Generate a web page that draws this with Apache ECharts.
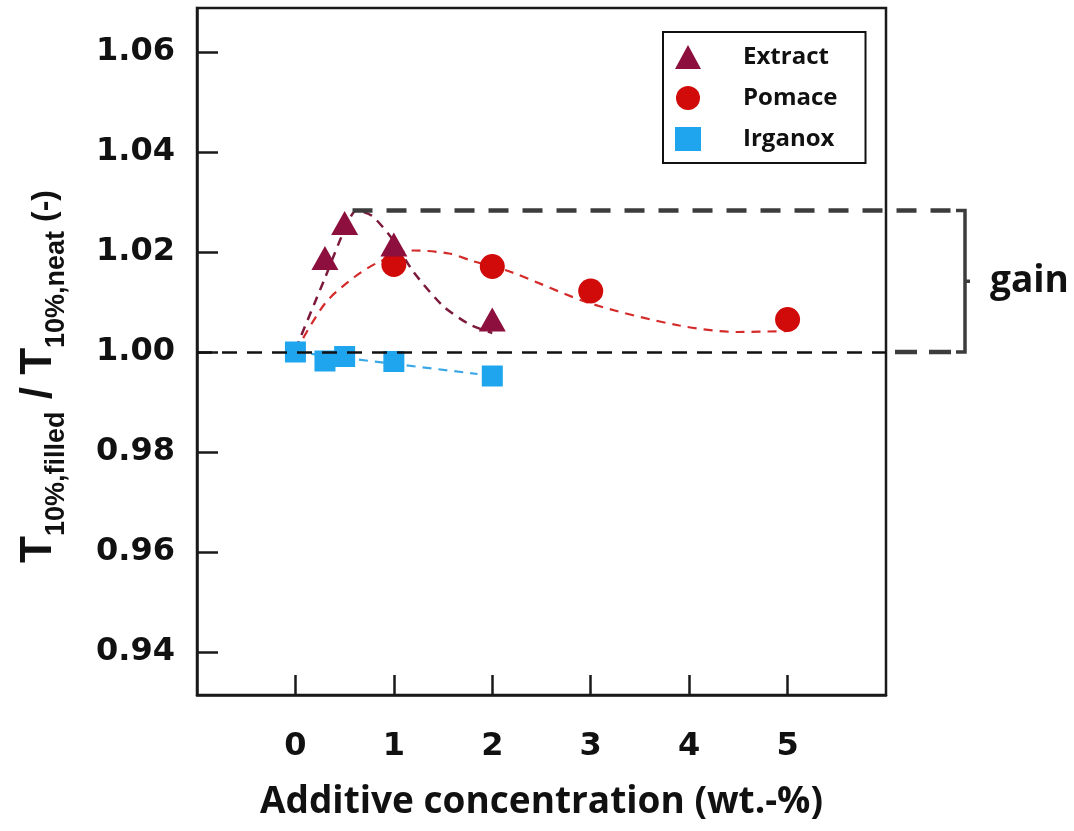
<!DOCTYPE html>
<html lang="en">
<head>
  <meta charset="UTF-8">
  <title>gain</title>
  <style>
    * {
      padding: 0;
      margin: 0;
    }
    body {
      background: #fff;
    }
    #charts {
      width: 1074px;
      height: 831px;
    }
  </style>
</head>
<body>
  <div id="charts"></div>
</body>
<script src="https://cdn.jsdelivr.net/npm/echarts@6/dist/echarts.min.js" type="text/javascript"></script>
<script type="text/javascript">
  // measured points
  var extractX = [0.3, 0.5, 1, 2]
  var extractY = [1.0188, 1.0258, 1.0215, 1.0065]
  var pomaceX = [1, 2, 3, 5]
  var pomaceY = [1.0175, 1.0171, 1.0122, 1.0065]
  var irganoxX = [0, 0.3, 0.5, 1, 2]
  var irganoxY = [1.0, 0.9982, 0.9991, 0.9981, 0.9952]

  // dashed guide curves
  var extractFitX = [0, 0.3, 0.5, 0.62, 0.78, 1.0, 1.2, 1.5, 1.77, 2.0]
  var extractFitY = [1.0005, 1.0148, 1.0245, 1.0283, 1.0272, 1.0222, 1.016, 1.0092, 1.0055, 1.0038]
  var pomaceFitX = [0, 0.3, 0.6, 0.85, 1.2, 1.56, 1.8, 2.19, 3.0, 3.9, 4.5, 5]
  var pomaceFitY = [1.0, 1.0097, 1.015, 1.018, 1.0203, 1.0197, 1.0182, 1.016, 1.0097, 1.0053, 1.004, 1.0042]
  var irganoxFitX = [0, 1.85]
  var irganoxFitY = [1.0, 0.9956]

  var xTicks = [0, 1, 2, 3, 4, 5]
  var yTicks = [0.94, 0.96, 0.98, 1.00, 1.02, 1.04, 1.06]
  var gainTop = 1.0283
  var gainStartX = 0.58
  var baseLine = 1.0

  function pairs(xs, ys) {
    return xs.map(function (x, i) { return [x, ys[i]] })
  }

  var myChart = echarts.init(document.getElementById('charts'))
  var labelFont = { fontFamily: 'DejaVu Sans', fontWeight: 'bold', fontSize: 32, color: '#111' }

  var option = {
    animation: false,
    backgroundColor: '#fff',
    grid: {
      left: 197, top: 8, right: 188, bottom: 136,
      outerBoundsMode: 'none',
      show: true, borderColor: '#1a1a1a', borderWidth: 2.5
    },
    legend: {
      orient: 'vertical',
      left: 663, top: 32,
      padding: [13, 28, 12, 12],
      itemGap: 17,
      itemWidth: 26, itemHeight: 24,
      borderColor: '#111', borderWidth: 2,
      textStyle: { fontFamily: 'Open Sans', fontWeight: 'bold', fontSize: 24, color: '#111', padding: [0, 0, 0, 37] },
      data: ['Extract', 'Pomace', 'Irganox']
    },
    xAxis: {
      type: 'value', min: -1, max: 6,
      name: 'Additive concentration (wt.-%)',
      nameLocation: 'middle', nameGap: 89,
      nameTextStyle: { fontFamily: 'Open Sans', fontWeight: 'bold', fontSize: 37, color: '#111' },
      splitLine: { show: false },
      axisLine: { onZero: false, lineStyle: { color: '#1a1a1a', width: 2.5 } },
      axisTick: { inside: true, length: 20, customValues: xTicks, lineStyle: { color: '#1a1a1a', width: 2.5 } },
      axisLabel: Object.assign({ customValues: xTicks, margin: 36 }, labelFont)
    },
    yAxis: {
      type: 'value', min: 0.9314, max: 1.0688,
      name: '{t|T}{s|10%,filled}{t| / T}{s|10%,neat}{p| (-)}',
      nameLocation: 'middle', nameRotate: 90, nameGap: 136,
      nameTextStyle: {
        padding: [0, 50, 0, 0],
        rich: {
          t: { fontFamily: 'Liberation Sans', fontWeight: 'bold', fontSize: 44, color: '#111', verticalAlign: 'bottom', lineHeight: 44 },
          s: { fontFamily: 'Liberation Sans', fontWeight: 'bold', fontSize: 27, color: '#111', verticalAlign: 'bottom', lineHeight: 30, padding: [0, 0, -9, 0] },
          p: { fontFamily: 'Liberation Sans', fontWeight: 'bold', fontSize: 32, color: '#111', verticalAlign: 'bottom', lineHeight: 44 }
        }
      },
      splitLine: { show: false },
      axisLine: { onZero: false, lineStyle: { color: '#1a1a1a', width: 2.5 } },
      axisTick: { inside: true, length: 21, customValues: yTicks, lineStyle: { color: '#1a1a1a', width: 2.5 } },
      axisLabel: Object.assign({ customValues: yTicks, margin: 22, formatter: function (v) { return v.toFixed(2) } }, labelFont)
    },
    series: [
      {
        name: 'extractFit', type: 'line', smooth: 0.25, showSymbol: false, silent: true, z: 2,
        lineStyle: { color: '#7d1a3c', width: 2.5, type: [9, 7] },
        data: pairs(extractFitX, extractFitY)
      },
      {
        name: 'pomaceFit', type: 'line', smooth: 0.3, showSymbol: false, silent: true, z: 2,
        lineStyle: { color: '#d42a2a', width: 2.2, type: [9, 7] },
        data: pairs(pomaceFitX, pomaceFitY)
      },
      {
        name: 'irganoxFit', type: 'line', showSymbol: false, silent: true, z: 2,
        lineStyle: { color: '#3aa8e6', width: 2.2, type: [9, 7] },
        data: pairs(irganoxFitX, irganoxFitY)
      },
      {
        name: 'Irganox', type: 'scatter', symbol: 'rect', symbolSize: 21, z: 3,
        itemStyle: { color: '#1ea5ee', opacity: 1 },
        data: pairs(irganoxX, irganoxY),
        markLine: {
          silent: true, symbol: 'none', z: 5,
          label: { show: false },
          lineStyle: { color: '#111', width: 2.5, type: [15, 10] },
          data: [{ yAxis: baseLine }]
        }
      },
      {
        name: 'Pomace', type: 'scatter', symbol: 'circle', symbolSize: 25, z: 3,
        itemStyle: { color: '#d10a0a', opacity: 1 },
        data: pairs(pomaceX, pomaceY)
      },
      {
        name: 'Extract', type: 'scatter', symbol: 'triangle', symbolSize: [27, 24], z: 4,
        itemStyle: { color: '#8c0f3d', opacity: 1 },
        data: pairs(extractX, extractY)
      }
    ]
  }
  myChart.setOption(option)

  // gain bracket, placed from the axis scale
  function drawGain() {
    var pTop = myChart.convertToPixel({ gridIndex: 0 }, [gainStartX, gainTop])
    var pBase = myChart.convertToPixel({ gridIndex: 0 }, [6, baseLine])
    var xEnd = 960, xBr = 965
    var yT = pTop[1], yB = pBase[1], yM = (yT + yB) / 2
    var grey = '#3c3c3c'
    myChart.setOption({
      graphic: [
        { type: 'line', z: 10, shape: { x1: pTop[0], y1: yT, x2: xEnd, y2: yT },
          style: { stroke: grey, lineWidth: 4.5, lineDash: [20, 14] } },
        { type: 'line', z: 10, shape: { x1: pBase[0] + 9, y1: yB, x2: xEnd, y2: yB },
          style: { stroke: grey, lineWidth: 4.5, lineDash: [22, 12] } },
        { type: 'polyline', z: 10, shape: { points: [[xEnd - 4, yT], [xBr, yT], [xBr, yB], [xEnd - 4, yB]] },
          style: { stroke: grey, lineWidth: 3.5, fill: null } },
        { type: 'line', z: 10, shape: { x1: xBr, y1: yM, x2: xBr + 5, y2: yM },
          style: { stroke: grey, lineWidth: 3.5 } },
        { type: 'text', z: 10, x: 990, y: yM,
          style: { text: 'gain', fontFamily: 'Open Sans', fontWeight: 'bold', fontSize: 37, fill: '#111', verticalAlign: 'middle' } }
      ]
    })
  }
  drawGain()
</script>
</html>
